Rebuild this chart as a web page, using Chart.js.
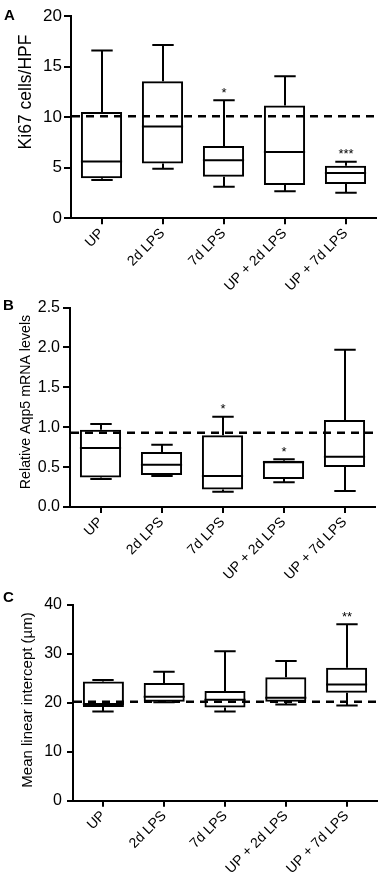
<!DOCTYPE html>
<html><head><meta charset="utf-8">
<script src="https://cdn.jsdelivr.net/npm/chart.js@4"></script>
<style>
html,body{margin:0;padding:0;background:#fff;width:383px;height:877px;overflow:hidden;}
canvas{position:absolute;left:0;}
</style></head><body>
<canvas id="cA" width="383" height="295" style="top:0px"></canvas>
<canvas id="cB" width="383" height="295" style="top:295px"></canvas>
<canvas id="cC" width="383" height="287" style="top:590px"></canvas>
<script>
// ---------- data ----------
const categories = ['UP', '2d LPS', '7d LPS', 'UP + 2d LPS', 'UP + 7d LPS'];

// Panel A: Ki67 cells/HPF
const ki67Min    = [3.78, 4.90, 3.12, 2.67, 2.53];
const ki67Q1     = [3.95, 5.43, 4.11, 3.29, 3.39];
const ki67Median = [5.62, 9.08, 5.75, 6.55, 4.47];
const ki67Q3     = [10.52, 13.55, 7.14, 11.15, 5.20];
const ki67Max    = [16.58, 17.14, 11.68, 14.04, 5.59];
const ki67Ref    = [10.1];
const ki67Stars  = ['', '', '*', '', '***'];
const ki67Ticks  = [0, 5, 10, 15, 20];

// Panel B: Relative Aqp5 mRNA levels
const aqp5Min    = [0.35, 0.39, 0.19, 0.31, 0.20];
const aqp5Q1     = [0.37, 0.40, 0.22, 0.35, 0.50];
const aqp5Median = [0.74, 0.53, 0.39, 0.56, 0.63];
const aqp5Q3     = [0.97, 0.69, 0.90, 0.58, 1.09];
const aqp5Max    = [1.04, 0.78, 1.13, 0.60, 1.97];
const aqp5Ref    = [0.93];
const aqp5Stars  = ['', '', '*', '*', ''];
const aqp5Ticks  = ['0.0', '0.5', '1.0', '1.5', '2.0', '2.5'];

// Panel C: Mean linear intercept (µm)
const mliMin     = [18.2, 20.1, 18.2, 19.6, 19.4];
const mliQ1      = [19.1, 20.2, 19.0, 20.2, 22.0];
const mliMedian  = [19.7, 21.2, 20.6, 21.0, 23.7];
const mliQ3      = [24.3, 24.0, 22.4, 25.2, 27.1];
const mliMax     = [24.6, 26.3, 30.5, 28.5, 36.0];
const mliRef     = [20.2];
const mliStars   = ['', '', '', '', '**'];
const mliTicks   = [0, 10, 20, 30, 40];

// ---------- rendering ----------
const FONT = "'Liberation Sans', Arial, Helvetica, sans-serif";

const boxExtras = {
  id: 'boxExtras',
  afterDatasetsDraw(chart) {
    const p = chart.options.plugins.boxExtras;
    const ctx = chart.ctx, ys = chart.scales.y, area = chart.chartArea;
    const meta = chart.getDatasetMeta(0);
    ctx.save();
    ctx.strokeStyle = '#000';
    ctx.fillStyle = '#000';
    ctx.lineWidth = 2;
    ctx.lineCap = 'butt';
    meta.data.forEach((el, i) => {
      const x = Math.round(el.x), w = el.width;
      const yMin = ys.getPixelForValue(p.min[i]);
      const yQ1 = ys.getPixelForValue(p.q1[i]);
      const yMed = ys.getPixelForValue(p.median[i]);
      const yQ3 = ys.getPixelForValue(p.q3[i]);
      const yMax = ys.getPixelForValue(p.max[i]);
      const cap = w * 0.26;
      ctx.beginPath();
      ctx.moveTo(x, yQ3); ctx.lineTo(x, yMax);
      ctx.moveTo(x, yQ1); ctx.lineTo(x, yMin);
      ctx.moveTo(x - cap, yMax); ctx.lineTo(x + cap, yMax);
      ctx.moveTo(x - cap, yMin); ctx.lineTo(x + cap, yMin);
      ctx.moveTo(el.x - w / 2, yMed); ctx.lineTo(el.x + w / 2, yMed);
      ctx.stroke();
      if (p.stars[i]) {
        ctx.font = '13px ' + FONT;
        ctx.textAlign = 'center';
        ctx.textBaseline = 'alphabetic';
        ctx.fillText(p.stars[i], x, yMax - 3.5);
      }
    });
    const yr = ys.getPixelForValue(p.ref[0]);
    ctx.setLineDash([8, 6]);
    ctx.lineWidth = 2.5;
    ctx.beginPath();
    ctx.moveTo(area.left + 1, yr);
    ctx.lineTo(area.right + 2, yr);
    ctx.stroke();
    ctx.restore();
  },
  afterDraw(chart) {
    const p = chart.options.plugins.boxExtras;
    const ctx = chart.ctx;
    ctx.save();
    ctx.fillStyle = '#000';
    ctx.font = 'bold 15px ' + FONT;
    ctx.textAlign = 'left';
    ctx.textBaseline = 'alphabetic';
    ctx.fillText(p.letter, p.letterX, p.letterY);
    ctx.translate(p.titleX, p.titleY);
    ctx.rotate(-Math.PI / 2);
    ctx.font = p.titleSize + 'px ' + FONT;
    ctx.textAlign = 'center';
    ctx.textBaseline = 'middle';
    ctx.fillText(p.title, 0, 0);
    ctx.restore();
  }
};

function makePanel(id, p) {
  const canvas = document.getElementById(id);
  const H = canvas.height;
  new Chart(canvas, {
    type: 'bar',
    data: {
      labels: categories,
      datasets: [{
        data: p.q1.map((v, i) => [v, p.q3[i]]),
        backgroundColor: 'rgba(0,0,0,0)',
        borderColor: '#000',
        borderWidth: 2,
        borderSkipped: false,
        barPercentage: 0.675,
        categoryPercentage: 1
      }]
    },
    options: {
      responsive: false,
      animation: false,
      events: [],
      layout: { padding: { left: 0, right: 383 - p.right, top: p.top, bottom: 0 } },
      plugins: {
        legend: { display: false },
        tooltip: { enabled: false },
        boxExtras: p
      },
      scales: {
        x: {
          type: 'category',
          offset: true,
          grid: { offset: false, drawOnChartArea: false, drawTicks: true, tickLength: 6, color: '#000', lineWidth: 2 },
          border: { display: true, color: '#000', width: 2 },
          ticks: { autoSkip: false, maxRotation: 45, minRotation: 45, padding: 1, color: '#000', font: { size: 14, family: FONT } },
          afterFit: s => { s.height = H - p.bottom; }
        },
        y: {
          min: 0,
          max: Number(p.ticks[p.ticks.length - 1]),
          grid: { drawOnChartArea: false, drawTicks: true, tickLength: p.tickLen, color: '#000', lineWidth: 2 },
          border: { display: true, color: '#000', width: 2 },
          afterBuildTicks: s => { s.ticks = p.ticks.map(v => ({ value: Number(v) })); },
          ticks: {
            padding: p.tickPad, color: '#000', font: { size: p.tickSize, family: FONT },
            callback: (v, i) => String(p.ticks[i])
          },
          afterFit: s => { s.width = p.left; }
        }
      }
    },
    plugins: [boxExtras]
  });
}

makePanel('cA', {
  min: ki67Min, q1: ki67Q1, median: ki67Median, q3: ki67Q3, max: ki67Max,
  ref: ki67Ref, stars: ki67Stars, ticks: ki67Ticks,
  letter: 'A', letterX: 4, letterY: 20,
  title: 'Ki67 cells/HPF', titleX: 26, titleY: 92, titleSize: 17.5,
  left: 71, right: 376, top: 16, bottom: 218.3,
  tickSize: 17, tickLen: 7, tickPad: 2
});
makePanel('cB', {
  min: aqp5Min, q1: aqp5Q1, median: aqp5Median, q3: aqp5Q3, max: aqp5Max,
  ref: aqp5Ref, stars: aqp5Stars, ticks: aqp5Ticks,
  letter: 'B', letterX: 3, letterY: 15,
  title: 'Relative Aqp5 mRNA levels', titleX: 26, titleY: 107, titleSize: 14.2,
  left: 70, right: 375, top: 11.5, bottom: 212,
  tickSize: 16, tickLen: 7, tickPad: 3
});
makePanel('cC', {
  min: mliMin, q1: mliQ1, median: mliMedian, q3: mliQ3, max: mliMax,
  ref: mliRef, stars: mliStars, ticks: mliTicks,
  letter: 'C', letterX: 3, letterY: 12,
  title: 'Mean linear intercept (µm)', titleX: 28, titleY: 110, titleSize: 15,
  left: 73, right: 377, top: 10, bottom: 210.7,
  tickSize: 16, tickLen: 6, tickPad: 5
});
</script>
</body></html>
